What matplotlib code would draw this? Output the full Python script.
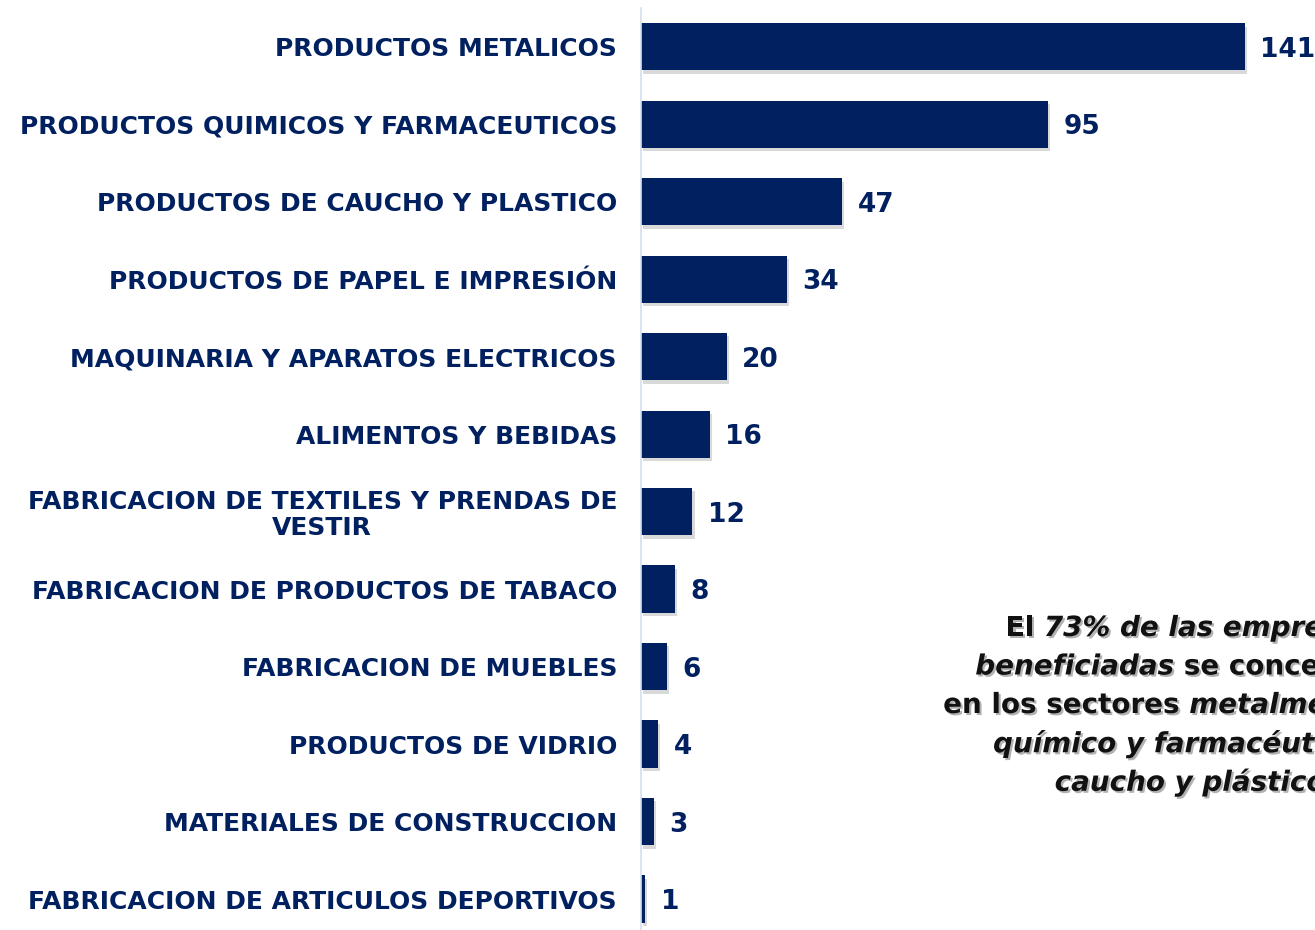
import matplotlib
matplotlib.use("Agg")
import matplotlib.pyplot as plt
import matplotlib.patheffects as pe

plt.rcParams['font.family'] = ['DejaVu Sans']

sectores = ["PRODUCTOS METALICOS",
            "PRODUCTOS QUIMICOS Y FARMACEUTICOS",
            "PRODUCTOS DE CAUCHO Y PLASTICO",
            "PRODUCTOS DE PAPEL E IMPRESIÓN",
            "MAQUINARIA Y APARATOS ELECTRICOS",
            "ALIMENTOS Y BEBIDAS",
            "FABRICACION DE TEXTILES Y PRENDAS DE\nVESTIR",
            "FABRICACION DE PRODUCTOS DE TABACO",
            "FABRICACION DE MUEBLES",
            "PRODUCTOS DE VIDRIO",
            "MATERIALES DE CONSTRUCCION",
            "FABRICACION DE ARTICULOS DEPORTIVOS"]
empresas = [141, 95, 47, 34, 20, 16, 12, 8, 6, 4, 3, 1]

navy = "#012060"

fig = plt.figure(figsize=(13.15, 9.30), dpi=100)
ax = fig.add_axes([641/1315, 0, 1 - 641/1315, (930-8)/930])

pos = list(range(len(sectores)))
bars = ax.barh(pos, empresas, height=0.61, color=navy)
for b in bars:
    b.set_path_effects([pe.SimplePatchShadow(offset=(1.5, -2.5), alpha=0.15, shadow_rgbFace="black"), pe.Normal()])

for p, v in zip(pos, empresas):
    ax.annotate(str(v), (v, p), xytext=(11, 0), textcoords="offset points",
                va="center_baseline", ha="left", fontsize=19, fontweight="bold", color=navy)

ax.set_xlim(0, 157.3)
ax.set_ylim(11.4, -0.5)
ax.set_yticks(pos)
ax.set_yticklabels(sectores, fontsize=18, fontweight="bold", color=navy, linespacing=1.1)
ax.tick_params(axis="y", length=0, pad=0)
ax.set_xticks([])
for lab in ax.get_yticklabels():
    lab.set_ha("right")
    lab.set_multialignment("center")
    lab.set_x(-24/674)
for s in ["top", "right", "bottom"]:
    ax.spines[s].set_visible(False)
ax.spines["left"].set_color("#d5dfec")
ax.spines["left"].set_linewidth(1.2)

# texto con estilos mezclados
lineas = [[("El ", "normal"), ("73% de las empresas", "italic")],
          [("beneficiadas", "italic"), (" se concentran", "normal")],
          [("en los sectores ", "normal"), ("metalmecánico,", "italic")],
          [("químico y farmacéutico y", "italic")],
          [("caucho y plástico", "italic")]]
cx = 1190
y0 = 628
dy = 38.5
fig.canvas.draw()
r = fig.canvas.get_renderer()
sombra = [pe.SimplePatchShadow(offset=(1.5, -1.5), alpha=0.3, shadow_rgbFace="black"), pe.Normal()]
for i, linea in enumerate(lineas):
    y = 930 - (y0 + i*dy)
    textos = []
    for seg, st in linea:
        t = fig.text(0, y/930, seg, fontsize=20, fontweight="bold", style=st,
                     color="#111111", va="center", ha="left", path_effects=sombra)
        textos.append(t)
    anchos = [t.get_window_extent(r).width for t in textos]
    x = cx - sum(anchos)/2
    for t, w in zip(textos, anchos):
        t.set_x(x/1315)
        x += w

fig.savefig("out.png", dpi=100)
